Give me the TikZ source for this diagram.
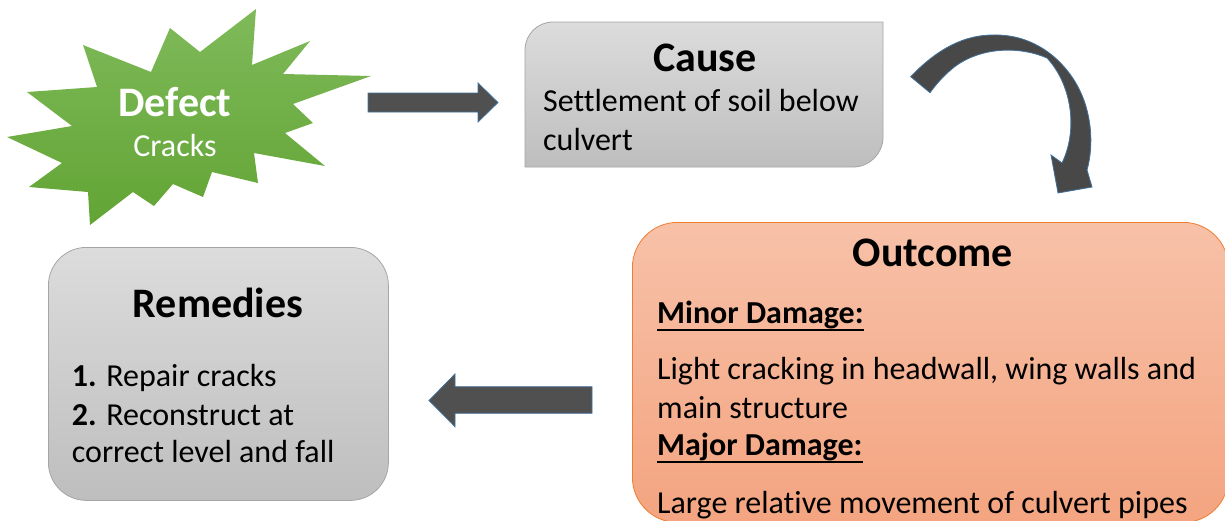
\documentclass[tikz,border=0pt]{standalone}
\usepackage{fontspec}
\setmainfont{Carlito}[Ligatures={NoCommon}]
\definecolor{burstTop}{RGB}{127,186,90}
\definecolor{burstBottom}{RGB}{98,164,52}
\definecolor{boxTop}{RGB}{220,220,220}
\definecolor{boxBottom}{RGB}{190,190,190}
\definecolor{boxEdge}{RGB}{165,165,165}
\definecolor{arrowGray}{RGB}{80,80,80}
\definecolor{curveGray}{RGB}{72,72,72}
\definecolor{edgeBlue}{RGB}{65,113,156}
\definecolor{outTop}{RGB}{247,193,168}
\definecolor{outBottom}{RGB}{244,164,128}
\definecolor{outEdge}{RGB}{237,125,49}
% underlined heading text, rule crossing the descenders
\newcommand\dmgline[1]{\setbox0=\hbox{#1}\rlap{\rule[-7.5pt]{\wd0}{2.2pt}}\box0}
\begin{document}
\begin{tikzpicture}[x=1pt,y=-1pt,
  heading/.style={font=\fontsize{42}{50}\selectfont\bfseries, inner sep=0pt, anchor=base},
  bodytext/.style={font=\fontsize{32}{38}\selectfont, inner sep=0pt, anchor=base west},
  boldtext/.style={font=\fontsize{32}{38}\selectfont\bfseries, inner sep=0pt, anchor=base west},
  blockarrow/.style={fill=arrowGray, draw=edgeBlue, line width=0.8pt, line join=miter},
  graybox/.style={top color=boxTop, bottom color=boxBottom, draw=boxEdge, line width=0.8pt},
]
\useasboundingbox (0,0) rectangle (1225,520);
\clip (0,0) rectangle (1225,520);

% ---- Defect starburst
\shade[top color=burstTop, bottom color=burstBottom]
  (256,9) -- (252,65) -- (310,41) -- (283,74) -- (371,76) -- (293,104) -- (313,123)
  -- (285,133) -- (325,166) -- (254,153) -- (258,183) -- (212,172) -- (203,197)
  -- (173,184) -- (154,206) -- (133,192) -- (90,225) -- (88,192) -- (29,187)
  -- (62,163) -- (7,137) -- (72,126) -- (27,92) -- (97,87) -- (83,45) -- (151,72)
  -- (170,28) -- (200,52) -- cycle;
\node[heading, text=white] (defect) at (175,116.7) {Defect};
\node[bodytext, anchor=base, text=white] (cracks) at (175,156.7) {Cracks};

% ---- arrow Defect -> Cause
\draw[blockarrow] (368,93) -- (478,93) -- (478,83) -- (498,102.5) -- (478,122)
  -- (478,112) -- (368,112) -- cycle;

% ---- Cause box (top-left and bottom-right corners rounded)
\draw[graybox] (525,167) -- (525,50)
  .. controls (525,34.5) and (537.5,22) .. (553,22)
  -- (883,22) -- (883,137)
  .. controls (883,153.6) and (869.6,167) .. (853,167)
  -- cycle;
\node[heading] (cause) at (705,71) {Cause};
\node[bodytext] (causeA) at (543,111.7) {Settlement of soil below};
\node[bodytext] (causeB) at (543,150) {culvert};

% ---- curved arrow Cause -> Outcome
\draw[fill=curveGray, draw=edgeBlue, line width=0.8pt, line join=miter]
  (910.7,76.7) .. controls (938,48) and (965,35) .. (993,35)
  .. controls (1030,34) and (1060,55) .. (1077,85)
  .. controls (1092,112) and (1094,145) .. (1087,170)
  -- (1092,187) -- (1058,193) -- (1051,155) -- (1062,163)
  .. controls (1078,130) and (1072,85) .. (1047,58)
  .. controls (1022,47) and (985,46) .. (957,65)
  .. controls (946,73) and (937,83) .. (930,92.7) -- cycle;

% ---- Outcome box
\node[top color=outTop, bottom color=outBottom, draw=outEdge, line width=0.8pt,
  rounded corners=45pt, minimum width=596pt, minimum height=300pt,
  anchor=north west, inner sep=0pt] (outbox) at (632,222) {};
\node[heading] (outcome) at (933,266.7) {Outcome};
\node[boldtext] (minor) at (657,323.3) {\dmgline{Minor Damage:}};
\node[bodytext] (lightA) at (657,379.3) {Light cracking in headwall, wing walls and};
\node[bodytext] (lightB) at (657,418.3) {main structure};
\node[boldtext] (major) at (657,455.7) {\dmgline{Major Damage:}};
\node[bodytext] (large) at (657,513.3) {Large relative movement of culvert pipes};

% ---- arrow Outcome -> Remedies
\draw[blockarrow] (592,386.7) -- (455,386.7) -- (455,374) -- (429,400.5) -- (455,426.7)
  -- (455,413.3) -- (592,413.3) -- cycle;

% ---- Remedies box
\node[graybox, rounded corners=38pt, minimum width=340pt, minimum height=253pt,
  anchor=north west, inner sep=0pt] (rembox) at (48,247) {};
\node[heading] (remedies) at (218,317.3) {Remedies};
\node[bodytext] (remA) at (71.7,386.7) {\textbf{1.} Repair cracks};
\node[bodytext] (remB) at (71.7,425) {\textbf{2.} Reconstruct at};
\node[bodytext] (remC) at (71.7,462.7) {correct level and fall};
\end{tikzpicture}
\end{document}
